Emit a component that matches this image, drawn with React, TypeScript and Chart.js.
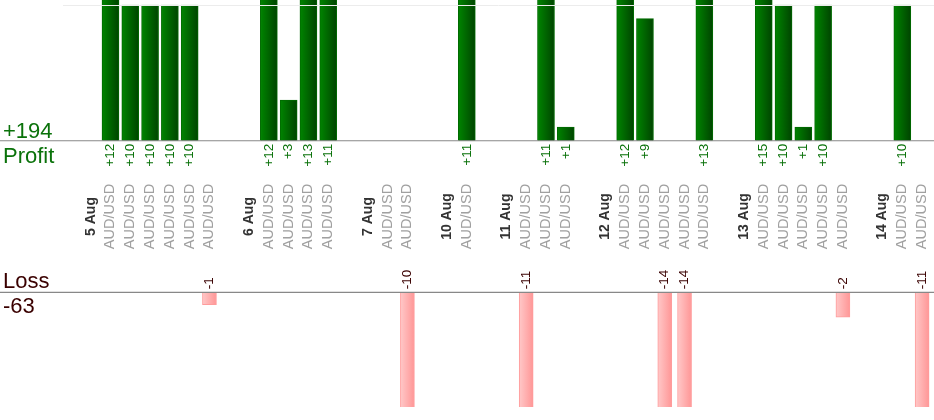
import React, { useEffect, useRef } from "react";
import { Chart, registerables } from "chart.js";

Chart.register(...registerables);

const dates = ["5 Aug", "6 Aug", "7 Aug", "10 Aug", "11 Aug", "12 Aug", "13 Aug", "14 Aug"];

const S = "AUD/USD";
const categories: string[] = [
  "", "5 Aug", S, S, S, S, S, S,
  "", "6 Aug", S, S, S, S,
  "", "7 Aug", S, S,
  "", "10 Aug", S,
  "", "11 Aug", S, S, S,
  "", "12 Aug", S, S, S, S, S,
  "", "13 Aug", S, S, S, S, S,
  "", "14 Aug", S, S,
];

const N: null = null;
const profit: (number | null)[] = [
  N, N, 12, 10, 10, 10, 10, N,
  N, N, 12, 3, 13, 11,
  N, N, N, N,
  N, N, 11,
  N, N, N, 11, 1,
  N, N, 12, 9, N, N, 13,
  N, N, 15, 10, 1, 10, N,
  N, N, 10, N,
];

const loss: (number | null)[] = [
  N, N, N, N, N, N, N, -1,
  N, N, N, N, N, N,
  N, N, N, -10,
  N, N, N,
  N, N, -11, N, N,
  N, N, N, N, -14, -14, N,
  N, N, N, N, N, N, -2,
  N, N, N, -11,
];

const FONT = '"Liberation Sans", Arial, sans-serif';
const GREEN = "#0a720a";
const MAROON = "#3a0000";

function gradientFor(c: any, w: number, from: string, to: string, fallback: string) {
  const chart = c.chart;
  const xs = chart.scales && chart.scales.x;
  if (!xs || c.type !== "data" || c.dataIndex == null) return fallback;
  const cx = xs.getPixelForValue(c.dataIndex);
  if (!isFinite(cx)) return fallback;
  const g = chart.ctx.createLinearGradient(cx - w / 2, 0, cx + w / 2, 0);
  g.addColorStop(0, from);
  g.addColorStop(1, to);
  return g;
}

const labelsPlugin = {
  id: "tradeLabels",
  afterDraw(chart: any) {
    const ctx = chart.ctx as CanvasRenderingContext2D;
    const xs = chart.scales.x;
    const yP = chart.scales.yP;
    const yL = chart.scales.yL;
    const area = chart.chartArea;
    const W = chart.width;
    const b0 = yP.getPixelForValue(0);
    const l0 = yL.getPixelForValue(0);
    const mid = (b0 + l0) / 2;

    ctx.save();
    // light grid line at top
    const g10 = Math.round(yP.getPixelForValue(10)) + 0.5;
    ctx.strokeStyle = "#ececec";
    ctx.lineWidth = 1;
    ctx.beginPath();
    ctx.moveTo(area.left + 2, g10);
    ctx.lineTo(W, g10);
    ctx.stroke();

    // baselines
    ctx.strokeStyle = "#888888";
    ctx.lineWidth = 1.2;
    [b0, l0].forEach((y) => {
      ctx.beginPath();
      ctx.moveTo(0, y);
      ctx.lineTo(W, y);
      ctx.stroke();
    });

    for (let i = 0; i < categories.length; i++) {
      const cx = xs.getPixelForValue(i);
      const lab = categories[i];
      if (lab) {
        const isDate = dates.includes(lab);
        ctx.save();
        ctx.translate(cx, mid);
        ctx.rotate(-Math.PI / 2);
        ctx.textAlign = "center";
        ctx.textBaseline = "middle";
        ctx.font = isDate ? `bold 14px ${FONT}` : `14.5px ${FONT}`;
        ctx.fillStyle = isDate ? "#333333" : "#a0a0a0";
        ctx.fillText(lab, 0, 0);
        ctx.restore();
      }
      const p = profit[i];
      if (p != null) {
        ctx.save();
        ctx.translate(cx, b0 + 3);
        ctx.rotate(-Math.PI / 2);
        ctx.textAlign = "right";
        ctx.textBaseline = "middle";
        ctx.font = `13.5px ${FONT}`;
        ctx.fillStyle = GREEN;
        ctx.fillText("+" + p, 0, 0);
        ctx.restore();
      }
      const l = loss[i];
      if (l != null) {
        ctx.save();
        ctx.translate(cx, l0 - 3);
        ctx.rotate(-Math.PI / 2);
        ctx.textAlign = "left";
        ctx.textBaseline = "middle";
        ctx.font = `13.5px ${FONT}`;
        ctx.fillStyle = MAROON;
        ctx.fillText(String(l), 0, 0);
        ctx.restore();
      }
    }

    const totalProfit = profit.reduce((a: number, v) => a + (v || 0), 0);
    const totalLoss = loss.reduce((a: number, v) => a + (v || 0), 0);
    ctx.font = `22px ${FONT}`;
    ctx.textAlign = "left";
    ctx.textBaseline = "alphabetic";
    ctx.fillStyle = GREEN;
    ctx.fillText("+" + totalProfit, 3, b0 - 3);
    ctx.fillText("Profit", 3, b0 + 22);
    ctx.fillStyle = MAROON;
    ctx.fillText("Loss", 3, l0 - 4);
    ctx.fillText(String(totalLoss), 3, l0 + 21);
    ctx.restore();
  },
};

export default function App() {
  const ref = useRef<HTMLCanvasElement | null>(null);

  useEffect(() => {
    if (!ref.current) return;
    const chart = new Chart(ref.current, {
      type: "bar",
      data: {
        labels: categories,
        datasets: [
          {
            label: "Profit",
            data: profit,
            yAxisID: "yP",
            grouped: false,
            barThickness: 17,
            borderWidth: 1,
            borderColor: "#006a00",
            backgroundColor: (c: any) => gradientFor(c, 17, "#008400", "#004400", "#006400"),
          } as any,
          {
            label: "Loss",
            data: loss,
            yAxisID: "yL",
            grouped: false,
            barThickness: 14,
            borderWidth: 1,
            borderColor: "#ff9c9c",
            backgroundColor: (c: any) => gradientFor(c, 14, "#ffc8c8", "#ff9696", "#ffb0b0"),
          } as any,
        ],
      },
      options: {
        responsive: false,
        animation: false,
        layout: { padding: { left: 61, right: 2, top: 0, bottom: 13 } },
        plugins: { legend: { display: false }, tooltip: { enabled: false } },
        scales: {
          x: { type: "category", display: false, offset: true, grid: { display: false } },
          yP: { type: "linear", display: false, min: -19.62, max: 10.37 },
          yL: { type: "linear", display: false, min: -9.25, max: 23.57 },
        },
      },
      plugins: [labelsPlugin],
    });
    return () => chart.destroy();
  }, []);

  return (
    <div style={{ position: "absolute", left: 0, top: 0, width: 934, height: 420, background: "#fff" }}>
      <canvas ref={ref} width={934} height={420} style={{ width: 934, height: 420, display: "block" }} />
    </div>
  );
}
